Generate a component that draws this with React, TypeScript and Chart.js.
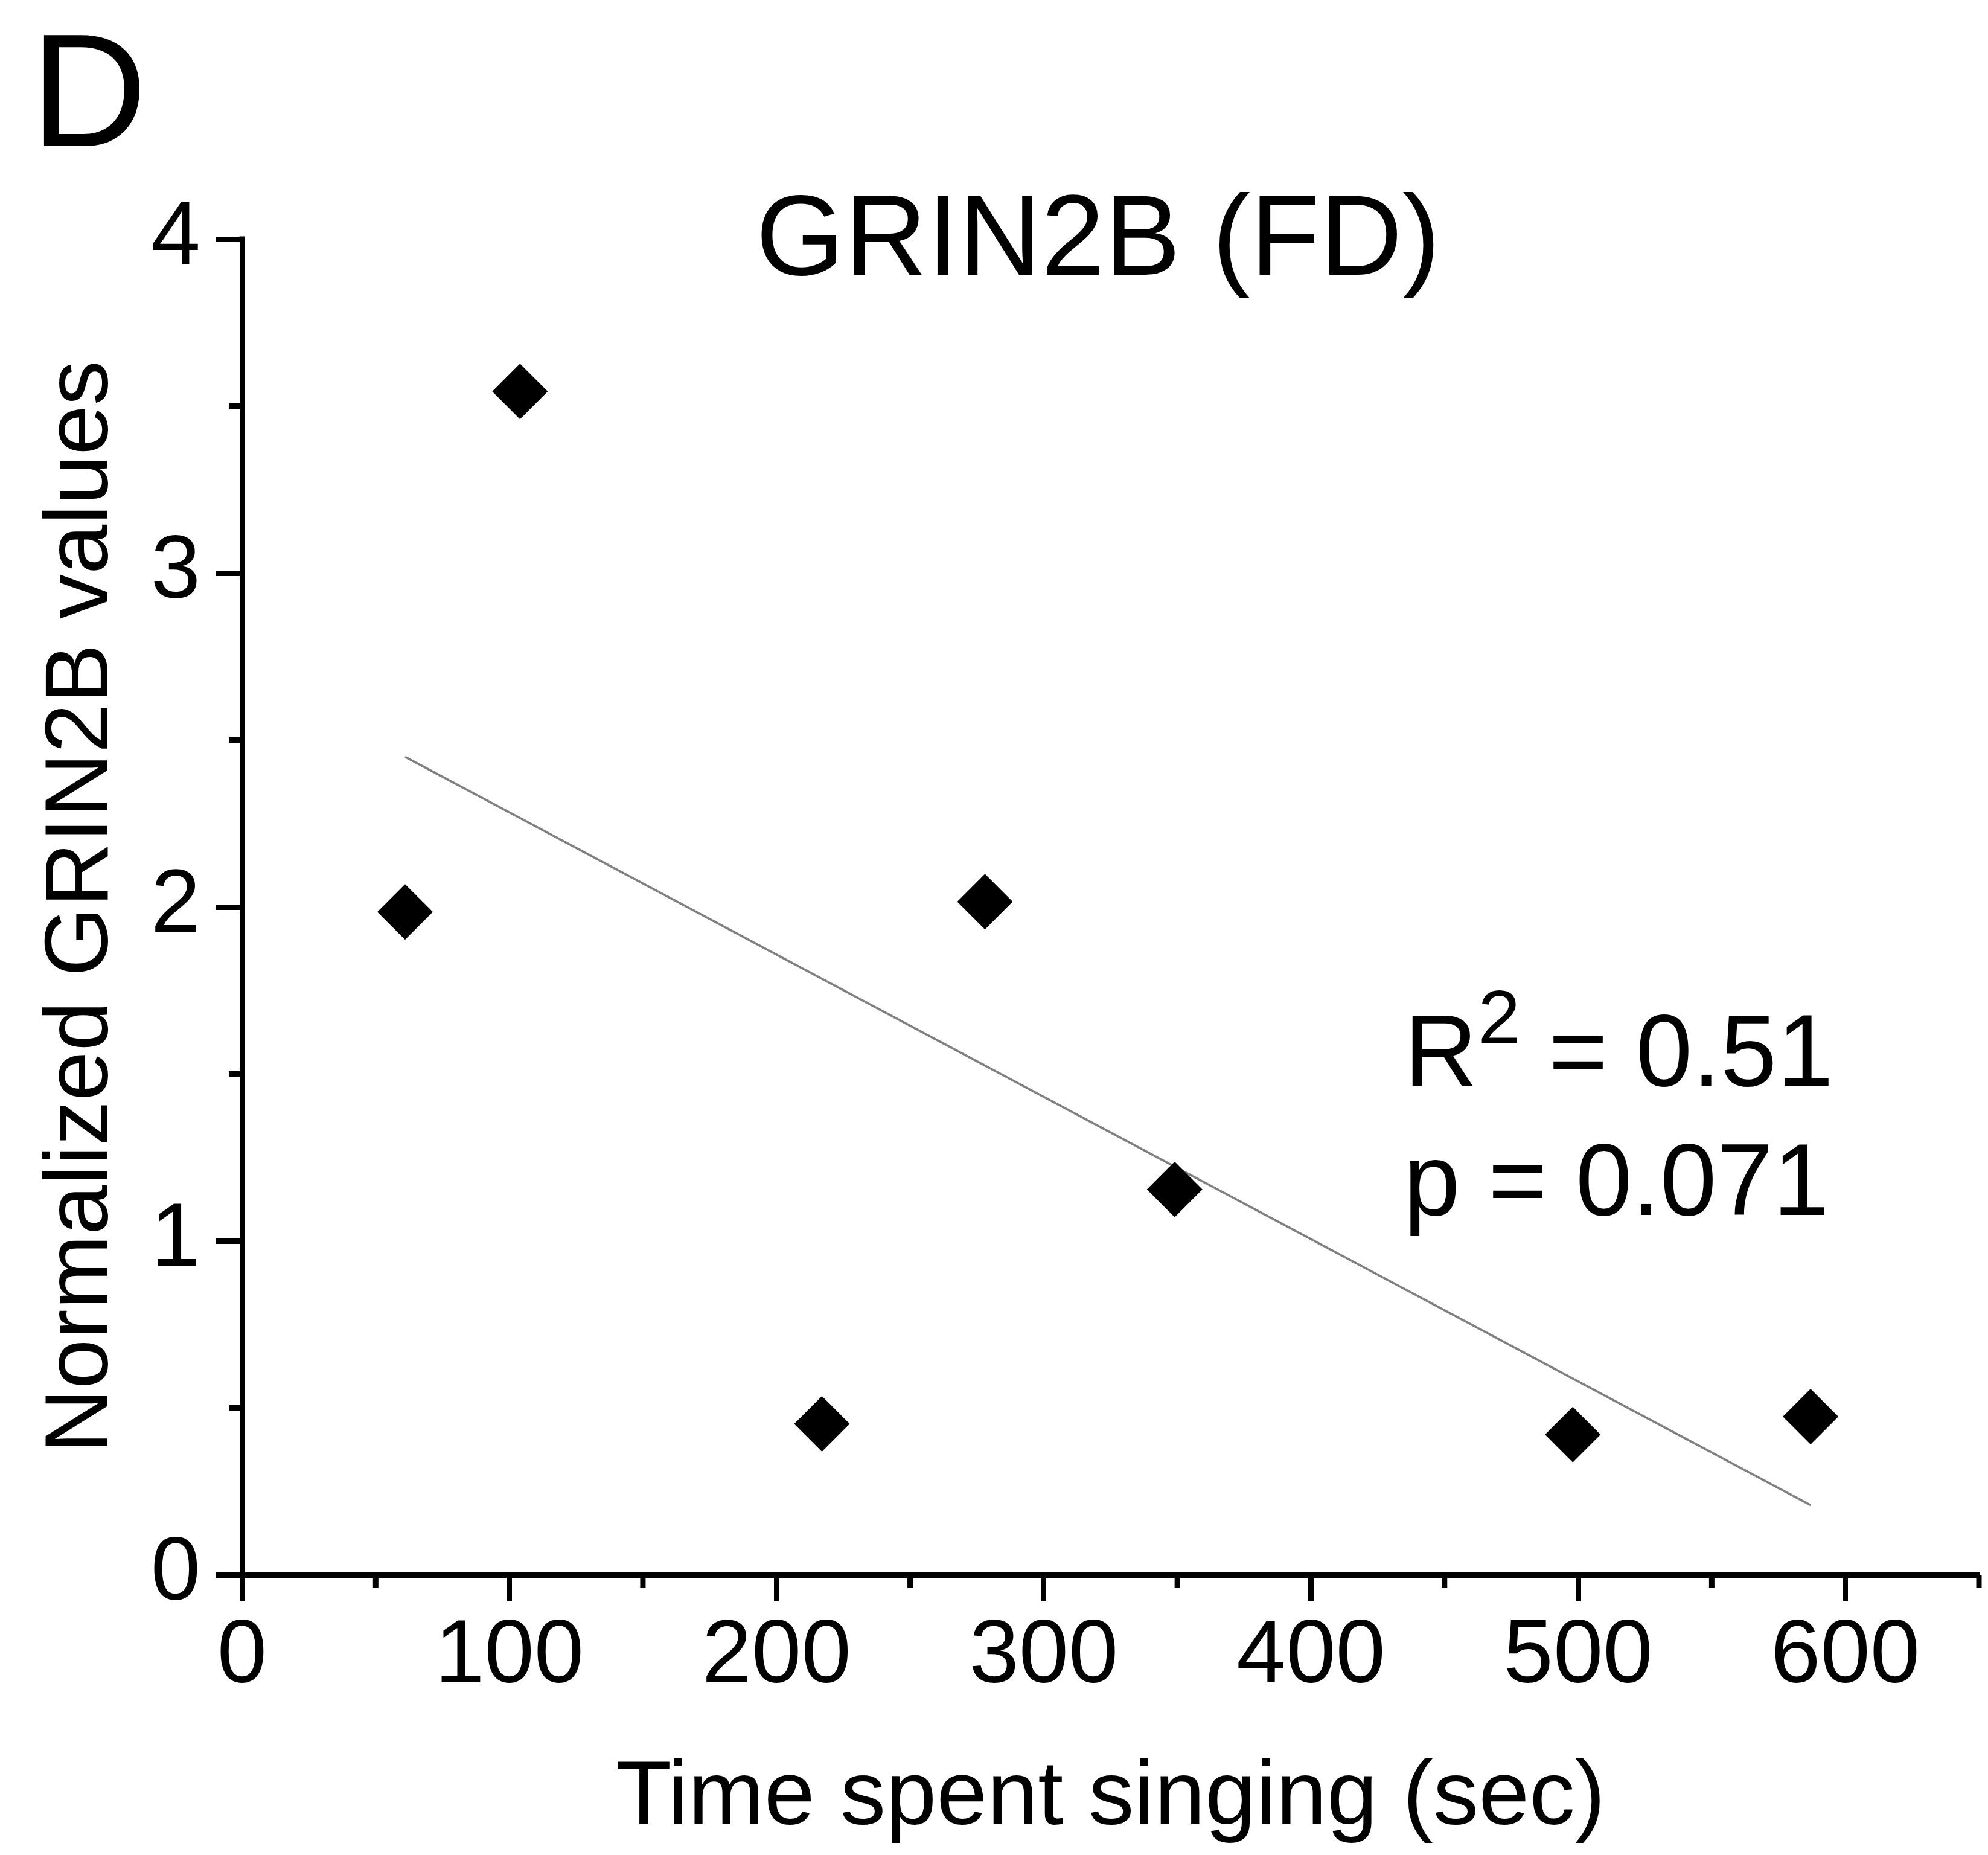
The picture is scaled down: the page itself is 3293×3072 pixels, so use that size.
import React, { useEffect, useRef } from "react";
import { Chart, registerables } from "chart.js";

Chart.register(...registerables);

// ---- data ----
const timeSpentSinging = [61, 104, 217, 278, 349, 498, 587];
const grin2bValues = [1.985, 3.544, 0.452, 2.016, 1.154, 0.42, 0.474];

const xTickLabels = ["0", "100", "200", "300", "400", "500", "600"];
const yTickLabels = ["0", "1", "2", "3", "4"];
const xMinorTicks = [50, 150, 250, 350, 450, 550, 650];
const yMinorTicks = [0.5, 1.5, 2.5, 3.5];

const panelLetter = "D";
const chartTitle = "GRIN2B (FD)";
const xAxisTitle = "Time spent singing (sec)";
const yAxisTitle = "Normalized GRIN2B values";
const rSquaredText = "0.51";
const pValueText = "0.071";

const FONT = "'Liberation Sans', Arial, Helvetica, sans-serif";
const W = 3293;
const H = 3072;

// least-squares fit of the data, drawn between the smallest and largest x
function fitLine(xs: number[], ys: number[]) {
  const n = xs.length;
  const mx = xs.reduce((a, b) => a + b, 0) / n;
  const my = ys.reduce((a, b) => a + b, 0) / n;
  let sxy = 0;
  let sxx = 0;
  for (let i = 0; i < n; i++) {
    sxy += (xs[i] - mx) * (ys[i] - my);
    sxx += (xs[i] - mx) * (xs[i] - mx);
  }
  const slope = sxy / sxx;
  const icpt = my - slope * mx;
  const x0 = Math.min(...xs);
  const x1 = Math.max(...xs);
  return [
    { x: x0, y: icpt + slope * x0 },
    { x: x1, y: icpt + slope * x1 },
  ];
}

const extrasPlugin = {
  id: "extras",
  afterDraw(chart: any) {
    const { ctx, chartArea, scales } = chart;
    const xs = scales.x;
    const ys = scales.y;
    ctx.save();
    ctx.fillStyle = "#000";
    ctx.strokeStyle = "#000";
    ctx.lineWidth = 9;
    ctx.lineCap = "butt";

    // corners of the axes
    ctx.fillRect(chartArea.left - 4.5, chartArea.top - 4.5, 9, 9);
    ctx.fillRect(chartArea.left - 4.5, chartArea.bottom - 4.5, 9, 9);

    // minor ticks
    for (const v of xMinorTicks) {
      const px = xs.getPixelForValue(v);
      ctx.beginPath();
      ctx.moveTo(px, chartArea.bottom);
      ctx.lineTo(px, chartArea.bottom + 22);
      ctx.stroke();
    }
    for (const v of yMinorTicks) {
      const py = ys.getPixelForValue(v);
      ctx.beginPath();
      ctx.moveTo(chartArea.left, py);
      ctx.lineTo(chartArea.left - 22, py);
      ctx.stroke();
    }

    ctx.textBaseline = "alphabetic";
    ctx.textAlign = "left";

    // panel letter
    ctx.font = `267px ${FONT}`;
    ctx.fillText(panelLetter, 51, 242);

    // title
    ctx.font = `189px ${FONT}`;
    ctx.fillText(chartTitle, 1252, 455);

    // R^2 line
    let x = 2326;
    ctx.font = `168px ${FONT}`;
    ctx.fillText("R", x, 1798);
    x += ctx.measureText("R").width;
    ctx.font = `126px ${FONT}`;
    ctx.fillText("2", x + 1, 1728);
    x += ctx.measureText("2").width + 1;
    ctx.font = `168px ${FONT}`;
    ctx.fillText(" = " + rSquaredText, x, 1798);

    // p line
    ctx.fillText("p = " + pValueText, 2325, 2012);
    ctx.restore();
  },
};

export default function App() {
  const canvasRef = useRef<HTMLCanvasElement | null>(null);

  useEffect(() => {
    document.body.style.margin = "0";
    const canvas = canvasRef.current;
    if (!canvas) return;
    const trend = fitLine(timeSpentSinging, grin2bValues);
    const points = timeSpentSinging.map((t, i) => ({ x: t, y: grin2bValues[i] }));

    const chart = new Chart(canvas, {
      type: "scatter",
      data: {
        datasets: [
          {
            label: "GRIN2B",
            data: points,
            pointStyle: "rectRot",
            pointRadius: 46,
            pointHoverRadius: 46,
            backgroundColor: "#000",
            borderColor: "#000",
            borderWidth: 0,
            order: 1,
          },
          {
            label: "fit",
            data: trend,
            showLine: true,
            pointRadius: 0,
            pointHoverRadius: 0,
            borderColor: "#808080",
            borderWidth: 3.5,
            fill: false,
            order: 2,
          } as any,
        ],
      },
      options: {
        animation: false,
        responsive: false,
        devicePixelRatio: 1,
        events: [],
        layout: { autoPadding: false, padding: { top: 396, right: 15, left: 0, bottom: 0 } },
        plugins: {
          legend: { display: false },
          tooltip: { enabled: false },
          title: { display: false },
        },
        scales: {
          x: {
            type: "linear",
            min: 0,
            max: 650,
            afterFit: (s: any) => {
              s.height = H - 2608;
              s.paddingLeft = 0;
              s.paddingRight = 0;
            },
            border: { display: true, color: "#000", width: 9 },
            grid: {
              display: true,
              drawOnChartArea: false,
              drawTicks: true,
              tickLength: 44,
              tickWidth: 9,
              tickColor: (c: any) =>
                xTickLabels.includes(String(c.tick?.value)) ? "#000" : "rgba(0,0,0,0)",
            },
            ticks: {
              stepSize: 50,
              autoSkip: false,
              maxRotation: 0,
              minRotation: 0,
              padding: 4,
              color: "#000",
              font: { family: FONT, size: 148 },
              callback: (v: any) => (xTickLabels.includes(String(v)) ? String(v) : ""),
            },
            title: {
              display: true,
              text: xAxisTitle,
              color: "#000",
              font: { family: FONT, size: 151 },
              padding: { top: 0, bottom: 2 },
            },
          },
          y: {
            type: "linear",
            min: 0,
            max: 4,
            afterFit: (s: any) => {
              s.width = 401;
            },
            border: { display: true, color: "#000", width: 9 },
            grid: {
              display: true,
              drawOnChartArea: false,
              drawTicks: true,
              tickLength: 44,
              tickWidth: 9,
              tickColor: (c: any) =>
                yTickLabels.includes(String(c.tick?.value)) ? "#000" : "rgba(0,0,0,0)",
            },
            ticks: {
              stepSize: 0.5,
              autoSkip: false,
              padding: 25,
              color: "#000",
              font: { family: FONT, size: 148 },
              callback: (v: any) => (yTickLabels.includes(String(v)) ? String(v) : ""),
            },
            title: {
              display: true,
              text: yAxisTitle,
              color: "#000",
              font: { family: FONT, size: 148 },
              padding: { top: 48, bottom: 0 },
            },
          },
        },
      },
      plugins: [extrasPlugin],
    });
    return () => chart.destroy();
  }, []);

  return (
    <div style={{ width: W, height: H, background: "#fff" }}>
      <canvas ref={canvasRef} width={W} height={H} style={{ display: "block", width: W, height: H }} />
    </div>
  );
}
